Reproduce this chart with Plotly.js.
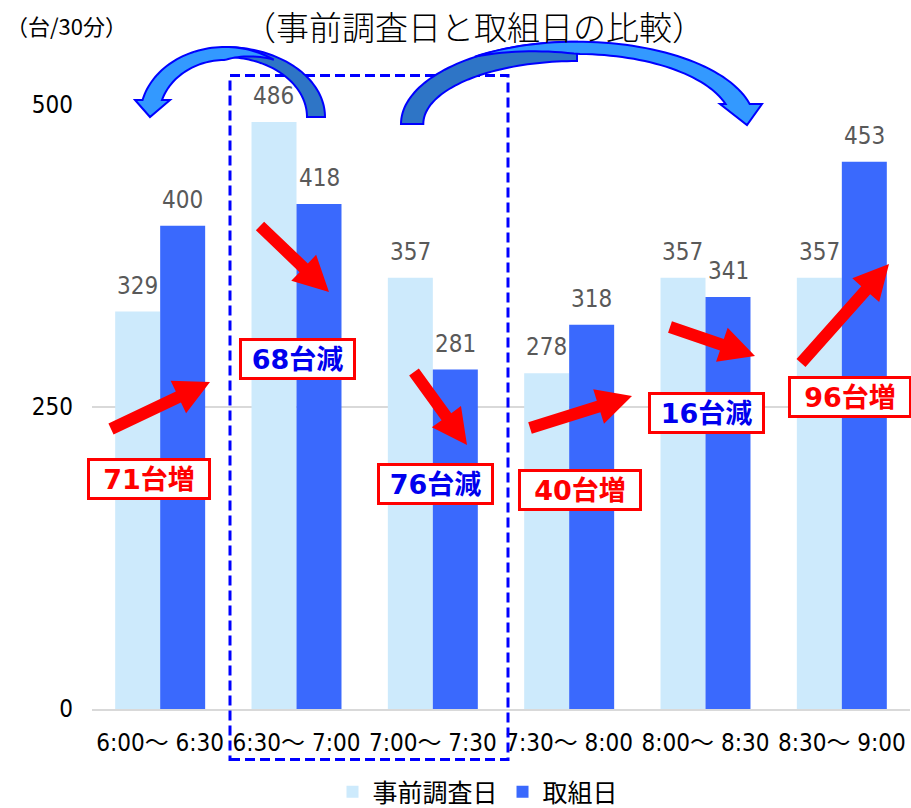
<!DOCTYPE html>
<html><head><meta charset="utf-8">
<script src="https://cdn.plot.ly/plotly-3.0.1.min.js"></script>
<style>html,body{margin:0;padding:0;background:#fff;} #chart{width:911px;height:808px;}</style>
</head><body><div id="chart"></div>
<script>
// ---------- data ----------
const categories = ['6:00～ 6:30','6:30～ 7:00','7:00～ 7:30','7:30～ 8:00','8:00～ 8:30','8:30～ 9:00'];
const surveyDay = [329, 486, 357, 278, 357, 357];
const actionDay = [400, 418, 281, 318, 341, 453];
const seriesNames = ['事前調査日', '取組日'];
const yTicks = [0, 250, 500];
const chartTitle = '（事前調査日と取組日の比較）';
const unitLabel = '（台/30分）';

// ---------- geometry / styles ----------
const W = 911, H = 808, ML = 92, MR = 1, MT = 105, MB = 99;
const PW = W - ML - MR, PH = H - MT - MB;
const px = x => (x - ML) / PW;
const py = y => (H - MB - y) / PH;
const pt = p => px(p[0]).toFixed(5) + ',' + py(p[1]).toFixed(5);
const poly = pts => 'M' + pts.map(pt).join('L') + 'Z';

const NARROW = 'Liberation Sans Narrow, Arial Narrow, DejaVu Sans Condensed, Noto Sans CJK JP, sans-serif';
const JP = 'Noto Sans CJK JP, sans-serif';
const LIGHT = '#cdeafc', DARK = '#3a69fd';
const ARROW_BACK = '#2e75c6', ARROW_FRONT = '#3399ff', ARROW_LINE = '#0000ff';

// decoration positions (pixels)
const boxCenters = [[149,479],[297,359],[435,484],[580,490],[706,413],[850,397]];
const redArrows = [
  [[111,429],[210,382]],
  [[260,226],[329,292]],
  [[414,372],[467,445]],
  [[530,428],[632,396]],
  [[670,327],[755,356]],
  [[801,363],[889,264]]
];

function straightArrow(tail, tip, sw, hw, hl) {
  const dx = tip[0]-tail[0], dy = tip[1]-tail[1], L = Math.hypot(dx,dy);
  const ux = dx/L, uy = dy/L, nx = -uy, ny = ux;
  const bx = tip[0]-ux*hl, by = tip[1]-uy*hl, s = sw/2, h = hw/2;
  return poly([[tail[0]+nx*s,tail[1]+ny*s],[bx+nx*s,by+ny*s],[bx+nx*h,by+ny*h],tip,
               [bx-nx*h,by-ny*h],[bx-nx*s,by-ny*s],[tail[0]-nx*s,tail[1]-ny*s]]);
}

const ell = (cx,cy,rx,ry,th) => { const t = th*Math.PI/180; return [cx+rx*Math.cos(t), cy-ry*Math.sin(t)]; };
// band between two concentric ellipses; optional taper from thS (zero width) to thF (full width)
function band(cx, cy, ro, ri, thS, thOEnd, thIEnd, thF) {
  const N = 48, outer = [], inner = [];
  for (let i=0;i<=N;i++) outer.push(ell(cx,cy,ro[0],ro[1], thS+(thOEnd-thS)*i/N));
  for (let i=0;i<=N;i++) {
    const th = thS+(thIEnd-thS)*i/N;
    let ip = ell(cx,cy,ri[0],ri[1],th);
    if (thF !== undefined) {
      const f = Math.max(0, Math.min(1, (th-thS)/(thF-thS)));
      const op = ell(cx,cy,ro[0],ro[1],th);
      ip = [op[0]+f*(ip[0]-op[0]), op[1]+f*(ip[1]-op[1])];
    }
    inner.push(ip);
  }
  return {outer, inner};
}
const endAngle = (cy, ry, yEnd, right) => { const a = Math.asin((cy-yEnd)/ry)*180/Math.PI; return right ? a : 180-a; };

function curvedArrow(spec) {
  const s = [];
  const back = band(spec.cx, spec.cy, spec.backO, spec.backI, spec.tailTh, 90, 90);
  s.push({type:'path', xref:'paper', yref:'paper', fillcolor: ARROW_BACK, line:{color: ARROW_LINE, width:2},
          path: poly(back.outer.concat(back.inner.slice().reverse()))});
  const right = spec.headRight;
  const thO = endAngle(spec.cy, spec.frontO[1], spec.headY, right);
  const thI = endAngle(spec.cy, spec.frontI[1], spec.headY, right);
  const front = band(spec.cx, spec.cy, spec.frontO, spec.frontI, spec.taperS, thO, thI, 90);
  s.push({type:'path', xref:'paper', yref:'paper', fillcolor: ARROW_FRONT, line:{color: ARROW_LINE, width:2},
          path: poly(front.outer.concat(spec.head).concat(front.inner.slice().reverse()))});
  return s;
}

// ---------- traces ----------
const traces = [
  {type:'bar', name: seriesNames[0], x: categories, y: surveyDay, marker:{color: LIGHT}, hoverinfo:'skip'},
  {type:'bar', name: seriesNames[1], x: categories, y: actionDay, marker:{color: DARK}, hoverinfo:'skip'}
];

// ---------- annotations ----------
const annotations = [];
categories.forEach((c,i)=>{
  [[surveyDay,-22.7],[actionDay,22.7]].forEach(([arr,xs])=>{
    annotations.push({x:c, y:arr[i], xref:'x', yref:'y', text:String(arr[i]), showarrow:false,
      xshift:xs, yshift:26, yanchor:'middle', font:{family:NARROW, size:24, color:'#595959'}});
  });
  const diff = actionDay[i]-surveyDay[i];
  const up = diff > 0;
  const col = up ? '#ff0000' : '#0000ee';
  annotations.push({xref:'paper', yref:'paper', x:px(boxCenters[i][0]), y:py(boxCenters[i][1]),
    text:'<b>'+Math.abs(diff)+'台'+(up?'増':'減')+'</b>', showarrow:false, xanchor:'center', yanchor:'middle',
    font:{family:'DejaVu Sans, Noto Sans CJK JP, sans-serif', size:27, color:col},
    bgcolor:'#ffffff', bordercolor:'#ff0000', borderwidth:3, borderpad:2,
    width: up ? 114 : 107, height:32});
});
annotations.push({xref:'paper', yref:'paper', x:px(66), y:py(25), text:unitLabel, showarrow:false,
  xanchor:'center', yanchor:'middle', font:{family:JP, size:22, color:'#000'}});

// ---------- shapes ----------
let shapes = [];
shapes.push({type:'rect', xref:'paper', yref:'paper', x0:px(230), x1:px(508), y0:py(759.5), y1:py(75.5),
  line:{color:'#0000ff', width:3, dash:'10px,5px'}, fillcolor:'rgba(0,0,0,0)'});
redArrows.forEach(a=>shapes.push({type:'path', xref:'paper', yref:'paper', path: straightArrow(a[0],a[1],12,36,35),
  fillcolor:'#ff0000', line:{width:0}}));
// left curved arrow (tail on the right, head on the left)
shapes = shapes.concat(curvedArrow({cx:225, cy:117, backO:[100,70], backI:[82,60], tailTh:0,
  frontO:[85,70], frontI:[66,57], taperS:55, headY:100, headRight:false,
  head:[[135,100],[150,117],[170,100]]}));
// right curved arrow (tail on the left, head on the right)
shapes = shapes.concat(curvedArrow({cx:577, cy:124, backO:[176,82.3], backI:[153.7,63], tailTh:180,
  frontO:[178,82.3], frontI:[155,70], taperS:125, headY:104, headRight:true,
  head:[[762,104],[747,125],[720,104]]}));

// ---------- layout ----------
const layout = {
  width: W, height: H,
  margin: {l: ML, r: MR, t: MT, b: MB, pad: 0, autoexpand: false},
  paper_bgcolor: '#ffffff', plot_bgcolor: '#ffffff',
  title: {text: chartTitle, font:{family: JP, size: 33, color:'#000', weight:300},
          xref:'paper', x: px(474), xanchor:'center', yref:'container', y: 1-28/H, yanchor:'middle'},
  barmode: 'group', bargap: 0.34, bargroupgap: 0,
  xaxis: {type:'category', automargin:false, showline:true, linecolor:'#d9d9d9', linewidth:1.5, showgrid:false, ticks:'',
          tickfont:{family: NARROW, size:24, color:'#000'}, ticklabelstandoff: 12, fixedrange:true},
  yaxis: {range:[0,500], automargin:false, tickvals: yTicks, ticktext: yTicks.map(String), showgrid:true, gridcolor:'#d9d9d9', gridwidth:1.5,
          zeroline:false, showline:false, ticks:'', tickfont:{family: NARROW, size:24, color:'#000'},
          ticklabelstandoff: 18, fixedrange:true},
  showlegend: true,
  legend: {orientation:'h', x: px(478), xanchor:'center', y: py(792), yanchor:'middle',
           font:{family: JP, size:25, color:'#000'}, itemclick:false},
  annotations, shapes
};

Plotly.newPlot('chart', traces, layout, {staticPlot:true, displayModeBar:false});
</script>
</body></html>
